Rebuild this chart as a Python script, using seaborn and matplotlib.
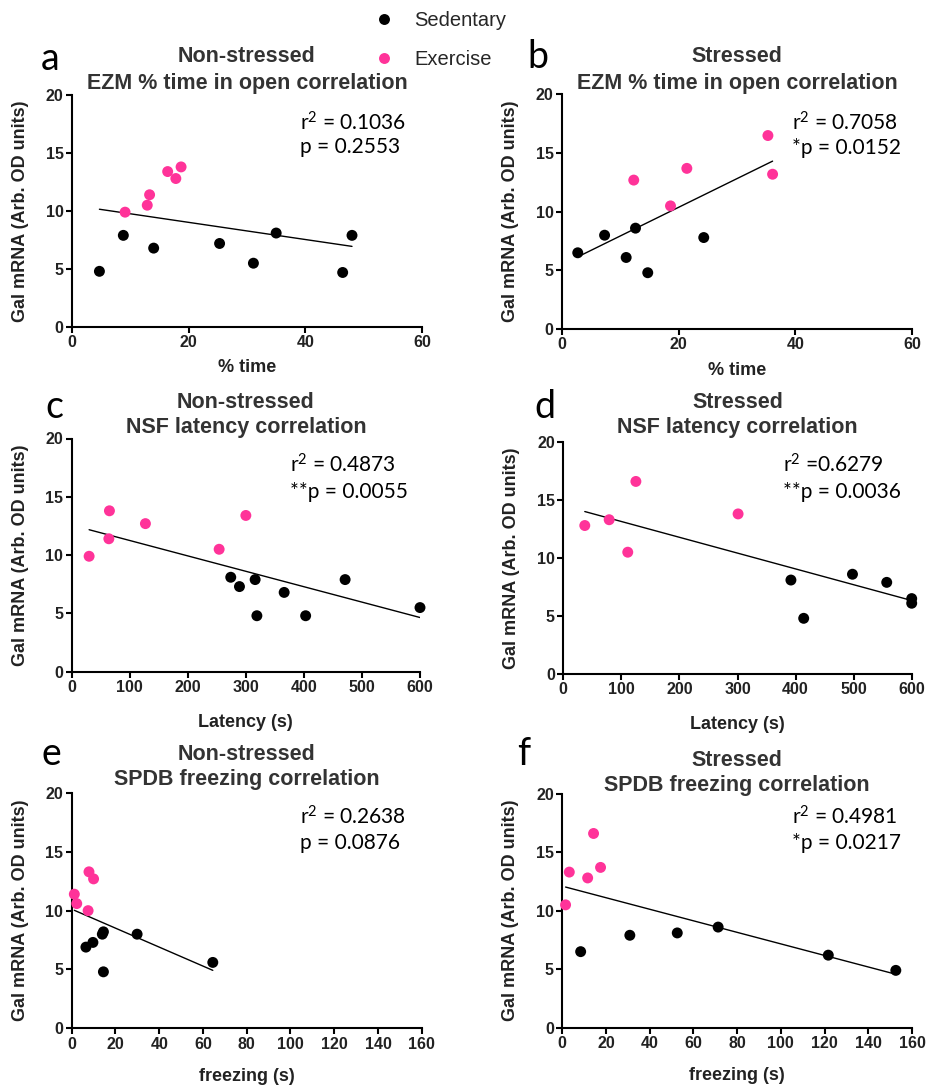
"""Gal mRNA vs behaviour correlations: six scatter panels with regression lines."""
import numpy as np
import pandas as pd
import matplotlib
matplotlib.use("Agg")
import matplotlib.pyplot as plt
import seaborn as sns

# ---- data ----
# a: non-stressed, EZM % time in open
ezm_ns_sed_x = [4.7, 8.8, 14.0, 25.3, 31.1, 35.0, 46.4, 48.0]
ezm_ns_sed_y = [4.8, 7.9, 6.8, 7.2, 5.5, 8.1, 4.7, 7.9]
ezm_ns_ex_x = [9.1, 12.9, 13.3, 16.4, 17.8, 18.7]
ezm_ns_ex_y = [9.9, 10.5, 11.4, 13.4, 12.8, 13.8]

# b: stressed, EZM % time in open
ezm_s_sed_x = [2.7, 7.3, 11.0, 12.6, 14.7, 24.3]
ezm_s_sed_y = [6.5, 8.0, 6.1, 8.6, 4.8, 7.8]
ezm_s_ex_x = [12.3, 18.6, 21.4, 35.3, 36.1]
ezm_s_ex_y = [12.7, 10.5, 13.7, 16.5, 13.2]

# c: non-stressed, NSF latency
nsf_ns_sed_x = [274, 289, 316, 319, 366, 403, 471, 600]
nsf_ns_sed_y = [8.1, 7.3, 7.9, 4.8, 6.8, 4.8, 7.9, 5.5]
nsf_ns_ex_x = [30, 65, 64, 127, 254, 300]
nsf_ns_ex_y = [9.9, 13.8, 11.4, 12.7, 10.5, 13.4]

# d: stressed, NSF latency
nsf_s_sed_x = [392, 414, 498, 557, 600, 600]
nsf_s_sed_y = [8.1, 4.8, 8.6, 7.9, 6.5, 6.1]
nsf_s_ex_x = [37, 79, 111, 125, 301]
nsf_s_ex_y = [12.8, 13.3, 10.5, 16.6, 13.8]

# e: non-stressed, SPDB freezing
spdb_ns_sed_x = [6.5, 9.7, 14.0, 14.5, 14.5, 29.9, 64.5]
spdb_ns_sed_y = [6.9, 7.3, 8.0, 8.2, 4.8, 8.0, 5.6]
spdb_ns_ex_x = [1.2, 2.3, 7.5, 7.9, 10.0]
spdb_ns_ex_y = [11.4, 10.6, 10.0, 13.3, 12.7]

# f: stressed, SPDB freezing
spdb_s_sed_x = [8.4, 30.9, 52.6, 71.3, 121.7, 152.6]
spdb_s_sed_y = [6.5, 7.9, 8.1, 8.6, 6.2, 4.9]
spdb_s_ex_x = [1.5, 3.2, 11.6, 14.3, 17.5]
spdb_s_ex_y = [10.5, 13.3, 12.8, 16.6, 13.7]

groups = ["Sedentary", "Exercise"]
colors = {"Sedentary": "black", "Exercise": "#ff3399"}

ezm_ticks = [0, 20, 40, 60]
nsf_ticks = [0, 100, 200, 300, 400, 500, 600]
spdb_ticks = [0, 20, 40, 60, 80, 100, 120, 140, 160]
y_ticks = [0, 5, 10, 15, 20]

W, H = 929, 1089

sns.set_theme(style="ticks")
plt.rcParams["font.family"] = ["Liberation Sans", "DejaVu Sans"]
plt.rcParams.update({
    "axes.linewidth": 1.5,
    "axes.edgecolor": "black",
    "xtick.major.width": 1.5,
    "ytick.major.width": 1.5,
    "xtick.major.size": 4,
    "ytick.major.size": 4,
    "xtick.major.pad": 2,
    "ytick.major.pad": 2,
    "xtick.color": "black",
    "ytick.color": "black",
    "mathtext.fontset": "custom",
    "mathtext.rm": "Lato",
    "mathtext.it": "Lato:italic",
    "mathtext.bf": "Lato:bold",
})

fig = plt.figure(figsize=(W / 100, H / 100), dpi=100)


def fx(x):
    return x / W


def fy(y):
    return 1 - y / H


def make_df(sx, sy, ex, ey):
    return pd.DataFrame({
        "x": list(sx) + list(ex),
        "y": list(sy) + list(ey),
        "group": ["Sedentary"] * len(sx) + ["Exercise"] * len(ex),
    })


panels = [
    dict(letter="a", rect=(72, 95, 422, 327), letter_pos=(50, 70),
         df=make_df(ezm_ns_sed_x, ezm_ns_sed_y, ezm_ns_ex_x, ezm_ns_ex_y),
         xticks=ezm_ticks, xlabel="% time", xlab_y=-0.14,
         title=("Non-stressed", "EZM % time in open correlation"), title_y=(57, 83),
         stats=("= 0.1036", "p = 0.2553"), stats_pos=(300, 123, 147)),
    dict(letter="b", rect=(562, 94.5, 912, 329), letter_pos=(538, 68),
         df=make_df(ezm_s_sed_x, ezm_s_sed_y, ezm_s_ex_x, ezm_s_ex_y),
         xticks=ezm_ticks, xlabel="% time", xlab_y=-0.14,
         title=("Stressed", "EZM % time in open correlation"), title_y=(57, 83),
         stats=("= 0.7058", "*p = 0.0152"), stats_pos=(792, 123, 148)),
    dict(letter="c", rect=(71.7, 438.5, 420, 671.7), letter_pos=(54, 418),
         df=make_df(nsf_ns_sed_x, nsf_ns_sed_y, nsf_ns_ex_x, nsf_ns_ex_y),
         xticks=nsf_ticks, xlabel="Latency (s)", xlab_y=-0.18,
         title=("Non-stressed", "NSF latency correlation"), title_y=(403, 428),
         stats=("= 0.4873", "**p = 0.0055"), stats_pos=(290, 465, 492)),
    dict(letter="d", rect=(563.3, 442, 911.7, 674), letter_pos=(545, 418),
         df=make_df(nsf_s_sed_x, nsf_s_sed_y, nsf_s_ex_x, nsf_s_ex_y),
         xticks=nsf_ticks, xlabel="Latency (s)", xlab_y=-0.18,
         title=("Stressed", "NSF latency correlation"), title_y=(402, 428),
         stats=("=0.6279", "**p = 0.0036"), stats_pos=(783, 465, 492)),
    dict(letter="e", rect=(71.7, 793, 421.7, 1028.3), letter_pos=(51, 765),
         df=make_df(spdb_ns_sed_x, spdb_ns_sed_y, spdb_ns_ex_x, spdb_ns_ex_y),
         xticks=spdb_ticks, xlabel="freezing (s)", xlab_y=-0.167,
         title=("Non-stressed", "SPDB freezing correlation"), title_y=(755, 780),
         stats=("= 0.2638", "p = 0.0876"), stats_pos=(300, 817, 843)),
    dict(letter="f", rect=(562.3, 793.7, 912, 1027.7), letter_pos=(524, 765),
         df=make_df(spdb_s_sed_x, spdb_s_sed_y, spdb_s_ex_x, spdb_s_ex_y),
         xticks=spdb_ticks, xlabel="freezing (s)", xlab_y=-0.167,
         title=("Stressed", "SPDB freezing correlation"), title_y=(760, 785),
         stats=("= 0.4981", "*p = 0.0217"), stats_pos=(792, 817, 843)),
]

legend_handles = None
for i, p in enumerate(panels):
    l, t, r, b = p["rect"]
    ax = fig.add_axes([fx(l), fy(b), (r - l) / W, (b - t) / H])
    df = p["df"]

    # regression line over all animals
    sns.regplot(data=df, x="x", y="y", scatter=False, ci=None, truncate=True,
                color="black", line_kws={"linewidth": 1.0}, ax=ax)
    sns.scatterplot(data=df, x="x", y="y", hue="group", hue_order=groups,
                    palette=colors, s=62, linewidth=0, clip_on=False,
                    legend=(i == 0), ax=ax, zorder=3)
    if i == 0:
        legend_handles = ax.get_legend_handles_labels()
        ax.get_legend().remove()

    ax.set_xlim(p["xticks"][0], p["xticks"][-1])
    ax.set_ylim(0, 20)
    ax.set_xticks(p["xticks"])
    ax.set_yticks(y_ticks)
    for lab in ax.get_xticklabels() + ax.get_yticklabels():
        lab.set_fontweight("bold")
        lab.set_fontsize(11.5)
        lab.set_color("#222222")
    sns.despine(ax=ax)

    ax.set_xlabel(p["xlabel"], fontsize=13, fontweight="bold", color="#222222")
    ax.set_ylabel("Gal mRNA (Arb. OD units)", fontsize=13, fontweight="bold",
                  color="#222222")
    ax.xaxis.set_label_coords(0.5, p["xlab_y"])
    ax.yaxis.set_label_coords(-0.123, 0.5)

    cx = (l + r) / 2
    for line, yy in zip(p["title"], p["title_y"]):
        fig.text(fx(cx), fy(yy), line, ha="center", va="center",
                 fontsize=15.5, fontweight="bold", color="#333333")

    lx, ly = p["letter_pos"]
    fig.text(fx(lx), fy(ly), p["letter"], ha="center", va="baseline",
             fontsize=27, family=["Lato", "DejaVu Sans"], color="black")

    sx, sy1, sy2 = p["stats_pos"]
    fig.text(fx(sx), fy(sy1), "r$^2$ " + p["stats"][0], ha="left", va="center",
             fontsize=15, family=["Lato", "DejaVu Sans"], color="black")
    fig.text(fx(sx), fy(sy2), p["stats"][1], ha="left", va="center",
             fontsize=15, family=["Lato", "DejaVu Sans"], color="black")

handles, labels = legend_handles
fig.legend(handles, labels, loc="upper left",
           bbox_to_anchor=(fx(374), fy(11)), frameon=False, fontsize=14.5,
           borderpad=0, borderaxespad=0, handlelength=1.0, handletextpad=1.0,
           labelspacing=1.0, markerscale=1.0)

fig.savefig("out.png", dpi=100)
